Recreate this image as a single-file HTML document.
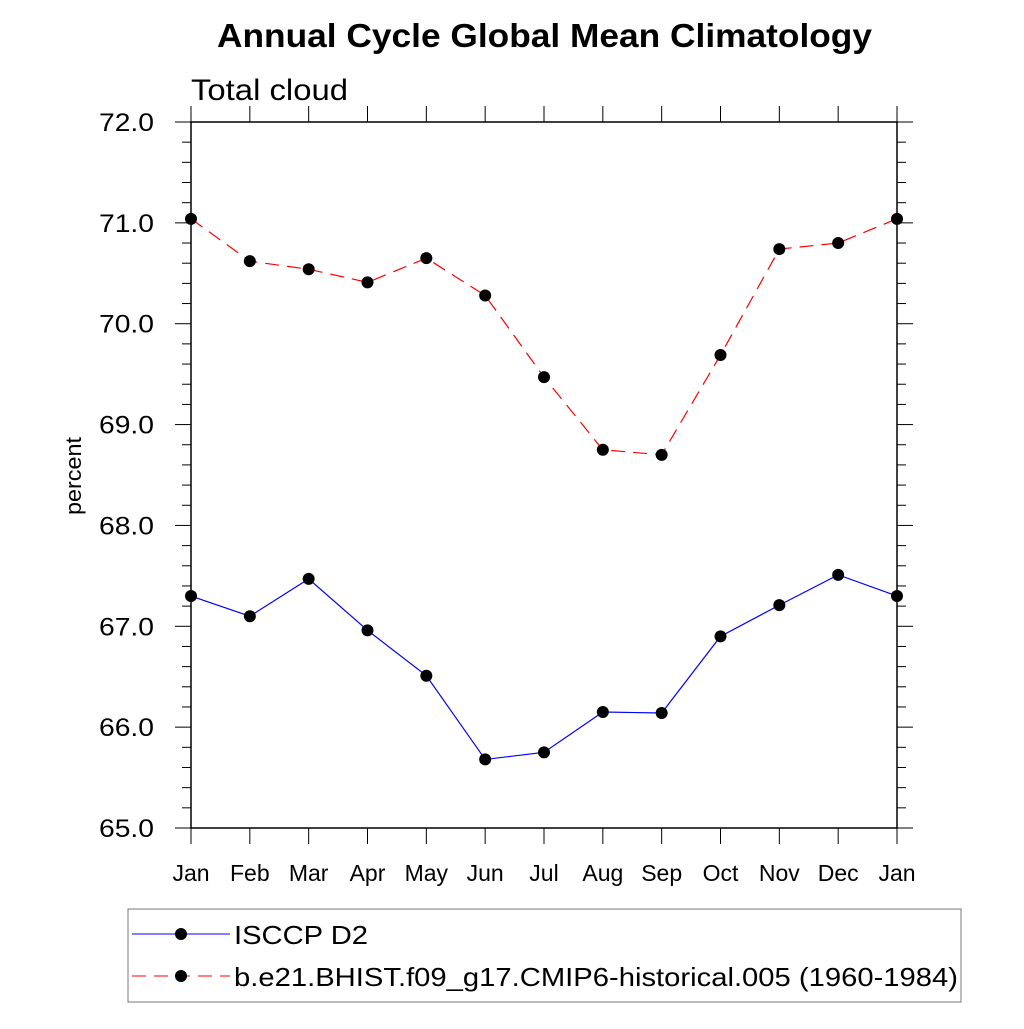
<!DOCTYPE html>
<html><head><meta charset="utf-8"><style>body{margin:0;background:#fff}svg text{font-family:"Liberation Sans",sans-serif}</style></head>
<body>
<svg id="c" width="1024" height="1024" xmlns="http://www.w3.org/2000/svg">
<text x="217" y="47" font-size="33" font-weight="bold" textLength="655" lengthAdjust="spacingAndGlyphs">Annual Cycle Global Mean Climatology</text>
<text x="191" y="100" font-size="30" textLength="157" lengthAdjust="spacingAndGlyphs">Total cloud</text>
<text transform="translate(81,515) rotate(-90)" font-size="22" textLength="78" lengthAdjust="spacingAndGlyphs">percent</text>
<g id="axes"></g><g id="series"></g>
<rect x="128" y="909" width="833" height="93" fill="none" stroke="#777"/>
<line x1="132" y1="934" x2="230" y2="934" stroke="#00f"/>
<circle cx="181" cy="934" r="6" fill="#000"/>
<text x="234" y="944" font-size="26" textLength="134" lengthAdjust="spacingAndGlyphs">ISCCP D2</text>
<line x1="132" y1="976" x2="230" y2="976" stroke="#f00" stroke-dasharray="14,8"/>
<circle cx="181" cy="976" r="6" fill="#000"/>
<text x="234" y="986" font-size="26" textLength="724" lengthAdjust="spacingAndGlyphs">b.e21.BHIST.f09_g17.CMIP6-historical.005 (1960-1984)</text>
</svg>
<script>
const months=["Jan","Feb","Mar","Apr","May","Jun","Jul","Aug","Sep","Oct","Nov","Dec","Jan"];
const isccp=[67.30,67.10,67.47,66.96,66.51,65.68,65.75,66.15,66.14,66.90,67.21,67.51,67.30];
const model=[71.04,70.62,70.54,70.41,70.65,70.28,69.47,68.75,68.70,69.69,70.74,70.80,71.04];
const yTicks=["65.0","66.0","67.0","68.0","69.0","70.0","71.0","72.0"];
const X0=191,X1=897,Y0=828,Y1=122,YMIN=65,YMAX=72;
const xs=i=>X0+i*(X1-X0)/(months.length-1);
const ys=v=>Y0-(v-YMIN)/(YMAX-YMIN)*(Y0-Y1);
const NS="http://www.w3.org/2000/svg";
function mk(t,a,p){const e=document.createElementNS(NS,t);for(const k in a)e.setAttribute(k,a[k]);p.appendChild(e);return e;}
const ax=document.getElementById('axes');
const frame=mk('rect',{x:X0,y:Y1,width:X1-X0,height:Y0-Y1,fill:'none',stroke:'#000','stroke-width':1.5},ax);


for(let v=YMIN;v<=YMAX+1e-9;v+=0.2){const maj=Math.abs(v-Math.round(v))<1e-6;const L=maj?16:9;const y=ys(v);
mk('line',{x1:X0-L,y1:y,x2:X0,y2:y,stroke:'#000'},ax);mk('line',{x1:X1,y1:y,x2:X1+L,y2:y,stroke:'#000'},ax);}
yTicks.forEach(t=>{const e=mk('text',{x:154,y:ys(+t)+9,'font-size':25,'text-anchor':'end',textLength:55,lengthAdjust:'spacingAndGlyphs'},ax);e.textContent=t;

});
months.forEach((m,i)=>{const x=xs(i);mk('line',{x1:x,y1:Y0,x2:x,y2:Y0+16,stroke:'#000'},ax);mk('line',{x1:x,y1:Y1-16,x2:x,y2:Y1,stroke:'#000'},ax);
const e=mk('text',{x:x,y:881,'font-size':23,'text-anchor':'middle'},ax);e.textContent=m;

});
const sg=document.getElementById('series');
function draw(arr,col,dash,name){const p=mk('polyline',{points:arr.map((v,i)=>xs(i)+','+ys(v)).join(' '),fill:'none',stroke:col,'stroke-width':1.2,'stroke-dasharray':dash},sg);


arr.forEach((v,i)=>{const c=mk('circle',{cx:xs(i),cy:ys(v),r:6,fill:'#000'},sg);

});}
draw(isccp,'#00f','none','isccp');
draw(model,'#f00','14,8','model');
</script>
</body></html>
